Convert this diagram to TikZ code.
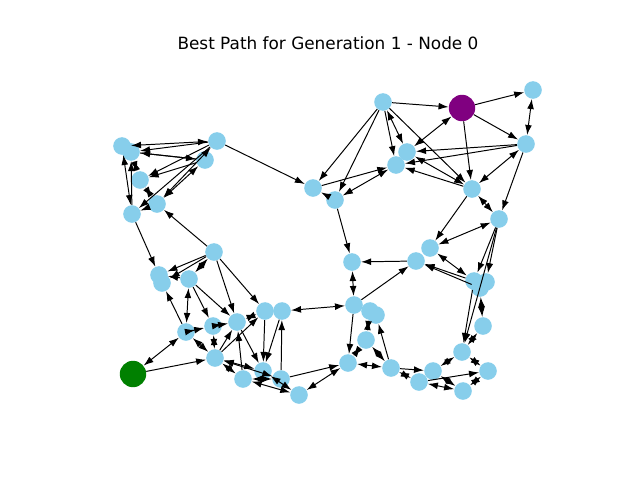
\documentclass[tikz,border=0pt]{standalone}
\usepackage{fontspec}
\setmainfont{DejaVu Sans}
\usepackage{tikz}
\usetikzlibrary{arrows.meta}
\definecolor{skyblue}{HTML}{87CEEB}
\definecolor{goalpurple}{HTML}{800080}
\definecolor{startgreen}{HTML}{008000}
\begin{document}
\begin{tikzpicture}[x=0.025cm, y=-0.025cm,
    >={Latex[length=2.5mm,width=1.7mm]},
    vertex/.style={circle, fill=skyblue, inner sep=0pt, minimum size=0.44cm},
    bigvertex/.style={circle, inner sep=0pt, minimum size=0.66cm},
    arc/.style={->, line width=0.7pt},
    twoway/.style={<->, line width=0.7pt}]
  \useasboundingbox (0,0) rectangle (640,480);
  \node (title) at (328,43) {\fontsize{12pt}{14pt}\selectfont Best Path for Generation 1 - Node 0};
  % top left group
  \node [vertex] (tl-1) at (122,146) {};
  \node [vertex] (tl-2) at (131,152) {};
  \node [vertex] (tl-3) at (217,141) {};
  \node [vertex] (tl-4) at (205,160) {};
  \node [vertex] (tl-5) at (140,180) {};
  \node [vertex] (tl-6) at (157,204) {};
  \node [vertex] (tl-7) at (132,214) {};
  % middle left group
  \node [vertex] (ml-1) at (214,252) {};
  \node [vertex] (ml-2) at (159,275) {};
  \node [vertex] (ml-3) at (162,283) {};
  \node [vertex] (ml-4) at (189,279) {};
  \node [vertex] (ml-5) at (186,332) {};
  \node [vertex] (ml-6) at (213,326) {};
  \node [vertex] (ml-7) at (237,322) {};
  \node [vertex] (ml-8) at (265,311) {};
  \node [vertex] (ml-9) at (282,311) {};
  \node [vertex] (ml-10) at (215,358) {};
  \node [vertex] (ml-11) at (243,379) {};
  \node [vertex] (ml-12) at (263,371) {};
  \node [vertex] (ml-13) at (281,379) {};
  \node [vertex] (ml-14) at (299,395) {};
  \node [bigvertex, fill=startgreen] (start) at (133,374) {};
  % top centre group
  \node [vertex] (tc-1) at (383,102) {};
  \node [bigvertex, fill=goalpurple] (goal) at (462,108) {};
  \node [vertex] (tc-2) at (533,90) {};
  \node [vertex] (tc-3) at (526,144) {};
  \node [vertex] (tc-4) at (407,152) {};
  \node [vertex] (tc-5) at (396,165) {};
  \node [vertex] (tc-6) at (313,188) {};
  \node [vertex] (tc-7) at (335,200) {};
  \node [vertex] (tc-8) at (472,189) {};
  \node [vertex] (tc-9) at (499,219) {};
  % right group
  \node [vertex] (rc-1) at (352,262) {};
  \node [vertex] (rc-2) at (416,261) {};
  \node [vertex] (rc-3) at (430,248) {};
  \node [vertex] (rc-4) at (474,281) {};
  \node [vertex] (rc-5) at (486,282) {};
  \node [vertex] (rc-6) at (480,288) {};
  \node [vertex] (rc-7) at (354,305) {};
  \node [vertex] (rc-8) at (370,311) {};
  \node [vertex] (rc-9) at (376,315) {};
  \node [vertex] (rc-10) at (366,340) {};
  \node [vertex] (rc-11) at (348,363) {};
  \node [vertex] (rc-12) at (391,368) {};
  \node [vertex] (rc-13) at (483,326) {};
  \node [vertex] (rc-14) at (462,352) {};
  \node [vertex] (rc-15) at (433,371) {};
  \node [vertex] (rc-16) at (419,382) {};
  \node [vertex] (rc-17) at (463,391) {};
  \node [vertex] (rc-18) at (488,371) {};
  % top left links
  \draw [twoway] (tl-1) to (tl-3);
  \draw [arc] (tl-3) to (tl-2);
  \draw [arc] (tl-2) to (tl-4);
  \draw [arc] (tl-4) to (tl-2);
  \draw [arc] (tl-3) to (tl-5);
  \draw [arc] (tl-4) to (tl-5);
  \draw [twoway] (tl-6) to (tl-3);
  \draw [twoway] (tl-6) to (tl-4);
  \draw [twoway] (tl-5) to (tl-6);
  \draw [twoway] (tl-5) to (tl-2);
  \draw [twoway] (tl-7) to (tl-1);
  \draw [arc] (tl-7) to (tl-2);
  \draw [arc] (tl-6) to (tl-7);
  \draw [arc] (tl-3) to (tl-7);
  \draw [arc] (tl-3) to (tc-6);
  \draw [arc] (tl-7) to (ml-2);
  \draw [arc] (ml-1) to (tl-6);
  % middle left links
  \draw [arc] (ml-1) to (ml-2);
  \draw [arc] (ml-1) to (ml-3);
  \draw [twoway] (ml-1) to (ml-4);
  \draw [arc] (ml-4) to (ml-2);
  \draw [arc] (ml-1) to (ml-7);
  \draw [arc] (ml-1) to (ml-8);
  \draw [twoway] (ml-4) to (ml-5);
  \draw [arc] (ml-4) to (ml-6);
  \draw [arc] (ml-4) to (ml-7);
  \draw [arc] (ml-5) to (ml-3);
  \draw [twoway] (start) to (ml-5);
  \draw [arc] (start) to (ml-10);
  \draw [twoway] (ml-5) to (ml-10);
  \draw [twoway] (ml-5) to (ml-6);
  \draw [twoway] (ml-6) to (ml-7);
  \draw [twoway] (ml-6) to (ml-10);
  \draw [twoway] (ml-7) to (ml-8);
  \draw [arc] (ml-10) to (ml-8);
  \draw [arc] (ml-10) to (ml-7);
  \draw [arc] (ml-11) to (ml-7);
  \draw [arc] (ml-7) to (ml-12);
  \draw [arc] (ml-8) to (ml-12);
  \draw [arc] (ml-9) to (ml-12);
  \draw [arc] (ml-13) to (ml-9);
  \draw [twoway] (ml-9) to (rc-7);
  \draw [twoway] (ml-10) to (ml-12);
  \draw [twoway] (ml-10) to (ml-13);
  \draw [twoway] (ml-10) to (ml-11);
  \draw [twoway] (ml-11) to (ml-14);
  \draw [twoway] (ml-12) to (ml-14);
  \draw [twoway] (ml-11) to (ml-13);
  \draw [arc] (ml-13) to (rc-11);
  \draw [twoway] (ml-14) to (rc-11);
  % top centre links
  \draw [arc] (tc-1) to (goal);
  \draw [arc] (goal) to (tc-2);
  \draw [twoway] (tc-2) to (tc-3);
  \draw [arc] (goal) to (tc-3);
  \draw [twoway] (goal) to (tc-4);
  \draw [arc] (goal) to (tc-8);
  \draw [arc] (tc-3) to (tc-4);
  \draw [arc] (tc-3) to (tc-5);
  \draw [twoway] (tc-3) to (tc-8);
  \draw [arc] (tc-3) to (tc-9);
  \draw [twoway] (tc-8) to (tc-9);
  \draw [twoway] (tc-1) to (tc-4);
  \draw [arc] (tc-1) to (tc-5);
  \draw [arc] (tc-1) to (tc-6);
  \draw [arc] (tc-1) to (tc-7);
  \draw [arc] (tc-1) to (tc-8);
  \draw [twoway] (tc-4) to (tc-8);
  \draw [arc] (tc-8) to (tc-5);
  \draw [arc] (tc-6) to (tc-5);
  \draw [twoway] (tc-7) to (tc-5);
  \draw [arc] (tc-7) to (tc-6);
  \draw [arc] (tc-7) to (rc-1);
  % right links
  \draw [arc] (tc-8) to (rc-3);
  \draw [twoway] (rc-3) to (tc-9);
  \draw [arc] (rc-2) to (rc-1);
  \draw [twoway] (rc-7) to (rc-1);
  \draw [arc] (rc-7) to (rc-2);
  \draw [twoway] (rc-3) to (rc-4);
  \draw [arc] (rc-4) to (rc-2);
  \draw [arc] (rc-6) to (rc-2);
  \draw [arc] (tc-9) to (rc-4);
  \draw [arc] (tc-9) to (rc-5);
  \draw [arc] (tc-9) to (rc-14);
  \draw [twoway] (rc-6) to (rc-13);
  \draw [arc] (rc-4) to (rc-14);
  \draw [twoway] (rc-13) to (rc-14);
  \draw [twoway] (rc-14) to (rc-15);
  \draw [twoway] (rc-14) to (rc-18);
  \draw [arc] (rc-12) to (rc-15);
  \draw [twoway] (rc-12) to (rc-16);
  \draw [arc] (rc-16) to (rc-18);
  \draw [twoway] (rc-16) to (rc-17);
  \draw [twoway] (rc-17) to (rc-18);
  \draw [twoway] (rc-15) to (rc-17);
  \draw [arc] (rc-12) to (rc-9);
  \draw [twoway] (rc-10) to (rc-12);
  \draw [arc] (rc-7) to (rc-11);
  \draw [twoway] (rc-8) to (rc-10);
  \draw [twoway] (rc-10) to (rc-11);
  \draw [twoway] (rc-11) to (rc-12);
\end{tikzpicture}
\end{document}
